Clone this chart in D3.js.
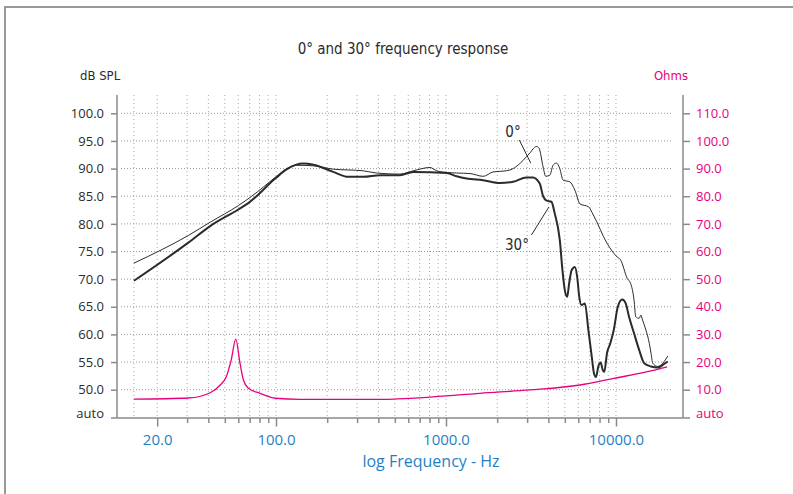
<!DOCTYPE html>
<html>
<head>
<meta charset="utf-8">
<script src="https://cdn.jsdelivr.net/npm/d3@7"></script>
<style>
  body { margin: 0; background: #fff; }
  svg { display: block; }
</style>
</head>
<body>
<div id="plot"></div>
<script>
// 0 degree response (thin line): frequency in Hz, level in dB SPL
const freq0 = [14.6, 30.5, 41, 60, 72, 99, 116, 132, 166, 217, 326, 390, 535, 642, 805, 882,
  1010, 1155, 1385, 1655, 1895, 2270, 2485, 2845, 3110, 3400, 3525, 3725, 3860, 4080, 4265,
  4460, 4670, 4885, 5350, 5730, 6140, 6880, 7360, 8850, 10160, 10630, 11660, 12200, 12770,
  13070, 13680, 14000, 14330, 14990, 15700, 16070, 16450, 17610, 18850, 20160];
const spl0 = [72.9, 77.9, 80.3, 83.3, 85.0, 88.4, 90.0, 90.6, 90.5, 89.9, 89.6, 89.2, 89.0, 89.6, 90.2, 89.6,
  89.3, 89.2, 89.1, 88.6, 89.4, 89.6, 90.0, 91.5, 92.8, 94.0, 93.7, 90.3, 88.6, 88.8, 90.6,
  91.0, 90.0, 87.9, 87.6, 86.1, 83.6, 83.1, 81.6, 76.5, 74.0, 73.5, 70.1, 69.2, 66.2,
  63.2, 62.9, 63.5, 62.6, 60.8, 58.4, 56.6, 54.8, 54.2, 54.8, 56.1];

// 30 degree response (thick line)
const freq30 = [14.6, 30.5, 41, 60, 69, 99, 116, 145, 166, 217, 266, 326, 410, 535, 642, 1010,
  1155, 1320, 1655, 2075, 2485, 2970, 3250, 3560, 3725, 3900, 4170, 4360, 4670, 4840, 5000,
  5160, 5300, 5480, 5730, 5910, 6080, 6270, 6560, 6880, 7200, 7430, 7630, 7870, 8120, 8350,
  8530, 8850, 9260, 9700, 10250, 10880, 11400, 11930, 12770, 13680, 14650, 16070, 17610,
  18850, 20160];
const spl30 = [69.7, 76.6, 79.6, 82.6, 83.8, 88.2, 89.9, 90.9, 90.7, 89.4, 88.5, 88.5, 88.8, 88.8, 89.4, 89.2,
  88.6, 88.2, 87.9, 87.4, 87.6, 88.4, 88.4, 87.3, 85.0, 84.2, 84.0, 81.9, 77.1, 71.7, 68.0,
  66.8, 69.2, 71.6, 72.2, 70.4, 66.8, 65.3, 65.6, 60.8, 56.0, 52.9, 52.3, 54.2, 54.9, 53.6,
  53.2, 56.6, 58.4, 60.8, 65.0, 66.3, 65.6, 63.2, 60.2, 57.2, 54.8, 54.2, 54.0,
  54.5, 55.1];

// impedance (pink, right axis)
const freqZ = [14.6, 30.5, 41, 47, 51, 54.5, 58, 61.4, 64.3, 68.8, 80.5, 99, 138, 409, 805,
  1585, 3110, 6140, 9700, 15300, 20000];
const ohmsZ = [6.6, 7.0, 8.9, 11.7, 14.7, 20.7, 28.3, 19.6, 13.5, 10.5, 8.7, 6.9, 6.5, 6.5, 7.3,
  8.7, 9.9, 11.7, 14.1, 16.5, 18.3];

const splTicks = [45, 50, 55, 60, 65, 70, 75, 80, 85, 90, 95, 100];
const ohmTicks = [0, 10, 20, 30, 40, 50, 60, 70, 80, 90, 100, 110];
const freqTicks = [20, 30, 40, 50, 60, 70, 80, 90, 100, 200, 300, 400, 500, 600, 700, 800, 900,
  1000, 2000, 3000, 4000, 5000, 6000, 7000, 8000, 9000, 10000];
const freqLabels = [20, 100, 1000, 10000];

const W = 793, H = 494;
const plot = { left: 117, right: 683, top: 95, bottom: 418 };
const pink = "#e6007e", blue = "#1f7fc3", ink = "#2b2b2b", axisGrey = "#8a8a8a";

const svg = d3.select("#plot").append("svg")
  .attr("width", W)
  .attr("height", H);

// scales
const x = d3.scaleLog().domain([100, 10000]).range([276, 616]);
const yL = d3.scaleLinear().domain([50, 100]).range([389.7, 113.3]);
const yR = d3.scaleLinear().domain([10, 110]).range([389.7, 113.3]);

// outer frame (left and top edges)
svg.append("path")
  .attr("d", `M5,${H} L5,7 L${W},7`)
  .attr("fill", "none")
  .attr("stroke", "#999")
  .attr("stroke-width", 2);

// gridlines
const grid = svg.append("g");
grid.selectAll("line.v")
  .data([freq0[0]].concat(freqTicks))
  .join("line")
  .attr("x1", d => x(d)).attr("x2", d => x(d))
  .attr("y1", plot.top).attr("y2", plot.bottom)
  .attr("stroke", "#a8a8a8")
  .attr("stroke-width", 1)
  .attr("stroke-dasharray", "1,3");

grid.selectAll("line.h")
  .data(splTicks.filter(d => d >= 50))
  .join("line")
  .attr("x1", 121).attr("x2", 672)
  .attr("y1", d => yL(d)).attr("y2", d => yL(d))
  .attr("stroke", "#9a9a9a")
  .attr("stroke-width", 1)
  .attr("stroke-dasharray", "1,2");

// axes
const leftAxis = svg.append("g")
  .attr("transform", `translate(${plot.left},0)`)
  .call(d3.axisLeft(yL).tickValues(splTicks).tickSize(6).tickPadding(7)
    .tickFormat(d => d === 45 ? "auto" : d3.format(".1f")(d)));

const rightAxis = svg.append("g")
  .attr("transform", `translate(${plot.right},0)`)
  .call(d3.axisRight(yR).tickValues(ohmTicks).tickSize(7).tickPadding(6)
    .tickFormat(d => d === 0 ? "auto" : d3.format(".1f")(d)));

const bottomAxis = svg.append("g")
  .attr("transform", `translate(0,${plot.bottom})`)
  .call(d3.axisBottom(x).tickValues(freqTicks).tickSize(5).tickPadding(11)
    .tickFormat(d => freqLabels.includes(d) ? d3.format(".1f")(d) : ""));

[leftAxis, rightAxis, bottomAxis].forEach(a => {
  a.select(".domain").remove();
  a.selectAll(".tick line").attr("stroke", axisGrey).attr("stroke-width", 1.5);
  a.selectAll("text").attr("font-family", "'Open Sans', sans-serif");
});

// the "auto" rows have no tick mark and sit a little above the baseline
leftAxis.selectAll(".tick").filter(d => d === 45).call(t => {
  t.select("line").remove();
  t.select("text").attr("y", -4);
});
rightAxis.selectAll(".tick").filter(d => d === 0).call(t => {
  t.select("line").remove();
  t.select("text").attr("y", -4);
});
leftAxis.selectAll("text").attr("font-size", 13).attr("fill", ink);
rightAxis.selectAll("text").attr("font-size", 13).attr("fill", pink);
bottomAxis.selectAll(".tick").filter(d => freqLabels.includes(d)).select("line").attr("y2", 8.5);
bottomAxis.selectAll("text").attr("font-size", 15).attr("fill", blue);

// axis lines
svg.append("line")
  .attr("x1", plot.left).attr("x2", plot.left)
  .attr("y1", plot.top).attr("y2", plot.bottom)
  .attr("stroke", axisGrey).attr("stroke-width", 1.5);
svg.append("line")
  .attr("x1", plot.right).attr("x2", plot.right)
  .attr("y1", plot.top).attr("y2", plot.bottom)
  .attr("stroke", axisGrey).attr("stroke-width", 1.5);
svg.append("line")
  .attr("x1", plot.left - 6).attr("x2", plot.right + 7)
  .attr("y1", plot.bottom).attr("y2", plot.bottom)
  .attr("stroke", axisGrey).attr("stroke-width", 1.5);

// curves
const lineL = d3.line()
  .x(d => x(d[0]))
  .y(d => yL(d[1]))
  .curve(d3.curveMonotoneX);
const lineR = d3.line()
  .x(d => x(d[0]))
  .y(d => yR(d[1]))
  .curve(d3.curveMonotoneX);

svg.append("path")
  .datum(d3.zip(freqZ, ohmsZ))
  .attr("d", lineR)
  .attr("fill", "none")
  .attr("stroke", pink)
  .attr("stroke-width", 1.3);

svg.append("path")
  .datum(d3.zip(freq0, spl0))
  .attr("d", lineL)
  .attr("fill", "none")
  .attr("stroke", ink)
  .attr("stroke-width", 1);

svg.append("path")
  .datum(d3.zip(freq30, spl30))
  .attr("d", lineL)
  .attr("fill", "none")
  .attr("stroke", ink)
  .attr("stroke-width", 2);

// curve labels with leader lines
const condensed = "'DejaVu Sans Condensed', 'DejaVu Sans', sans-serif";
svg.append("text").attr("x", 513).attr("y", 137)
  .attr("text-anchor", "middle").attr("font-family", condensed)
  .attr("font-size", 15).attr("fill", ink).text("0°");
svg.append("line")
  .attr("x1", x(2700)).attr("y1", 140).attr("x2", x(3150)).attr("y2", 163)
  .attr("stroke", ink).attr("stroke-width", 1);
svg.append("text").attr("x", 517).attr("y", 250)
  .attr("text-anchor", "middle").attr("font-family", condensed)
  .attr("font-size", 15).attr("fill", ink).text("30°");
svg.append("line")
  .attr("x1", x(3180)).attr("y1", 235).attr("x2", x(4030)).attr("y2", 207)
  .attr("stroke", ink).attr("stroke-width", 1);

// titles
svg.append("text").attr("x", 403).attr("y", 54)
  .attr("text-anchor", "middle").attr("font-family", condensed)
  .attr("font-size", 15).attr("fill", ink)
  .text("0° and 30° frequency response");
svg.append("text").attr("x", 80).attr("y", 80)
  .attr("font-family", condensed).attr("font-size", 13).attr("fill", ink)
  .text("dB SPL");
svg.append("text").attr("x", 688).attr("y", 80)
  .attr("text-anchor", "end")
  .attr("font-family", condensed).attr("font-size", 13).attr("fill", pink)
  .text("Ohms");
svg.append("text").attr("x", 431).attr("y", 467)
  .attr("text-anchor", "middle").attr("font-family", "'Open Sans', sans-serif")
  .attr("font-size", 16).attr("fill", blue)
  .text("log Frequency - Hz");
</script>
</body>
</html>
